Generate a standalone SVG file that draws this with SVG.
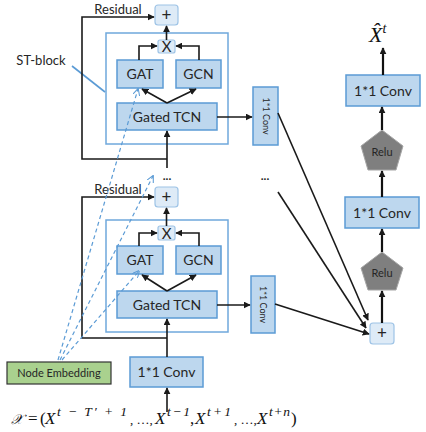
<svg xmlns="http://www.w3.org/2000/svg" width="426" height="432" viewBox="0 0 426 432">
<defs>
<style>
.box{fill:#bdd7ee;stroke:#5b9bd5;stroke-width:1.5}
.blk{fill:none;stroke:#6fa8dc;stroke-width:1.5}
.op{fill:#deebf7;stroke:#9dc3e6;stroke-width:1.2}
.relu{fill:#7f7f7f;stroke:#a6a6a6;stroke-width:1}
.lbl{font-family:Lato,"Open Sans",sans-serif;fill:#262626;text-anchor:middle}
.ln{fill:none;stroke:#1a1a1a;stroke-width:1.6}
.thick{fill:none;stroke:#111;stroke-width:2.2}
.dash{fill:none;stroke:#5b9bd5;stroke-width:1.2;stroke-dasharray:4 3}
.math{font-family:"Liberation Serif","DejaVu Serif",serif;fill:#111}
.m{font-family:"Liberation Serif","DejaVu Serif",serif;fill:#111;font-size:17px}
.ms{font-family:"Liberation Serif","DejaVu Serif",serif;fill:#111;font-size:13px}
.mi{font-family:"Liberation Serif","DejaVu Serif",serif;fill:#111;font-size:17px;font-style:italic}
.sup{font-family:"Liberation Serif","DejaVu Serif",serif;fill:#111;font-size:13.5px;font-style:italic}
</style>
<marker id="ah" viewBox="0 0 10 10" refX="9" refY="5" markerWidth="7" markerHeight="7" markerUnits="userSpaceOnUse" orient="auto"><path d="M0,0 L10,5 L0,10 z" fill="#1a1a1a"/></marker>
<marker id="ahb" viewBox="0 0 10 10" refX="9" refY="5" markerWidth="7" markerHeight="7" markerUnits="userSpaceOnUse" orient="auto"><path d="M0,0 L10,5 L0,10" fill="none" stroke="#5b9bd5" stroke-width="1.5"/></marker>
</defs>
<rect width="426" height="432" fill="#fff"/>

<!-- Top ST-block -->
<g id="st-block-top">
<rect class="blk" x="106" y="33" width="122" height="111"/>
<rect class="box" x="117" y="60" width="46" height="28"/>
<text class="lbl" x="140" y="79" font-size="14">GAT</text>
<rect class="box" x="176" y="60" width="45" height="28"/>
<text class="lbl" x="198.5" y="79" font-size="14">GCN</text>
<rect class="box" x="117" y="103" width="100" height="27"/>
<text class="lbl" x="167" y="122" font-size="14">Gated TCN</text>
<rect class="op" x="158" y="40" width="17" height="13" rx="2"/>
<text class="lbl" x="166.5" y="52" font-size="15" fill="#404040">X</text>
</g>
<g id="plus-top">
<rect class="op" x="155" y="5" width="23" height="20" rx="3"/>
<text class="lbl" x="166.5" y="21" font-size="17">+</text>
</g>
<g id="conv-v-top">
<rect class="box" x="253" y="87" width="25" height="58"/>
<text class="lbl" transform="translate(262.5,116) rotate(90)" font-size="9">1*1 Conv</text>
</g>

<!-- Bottom ST-block -->
<g id="st-block-bottom">
<rect class="blk" x="106" y="220" width="122" height="112"/>
<rect class="box" x="117" y="246" width="46" height="28"/>
<text class="lbl" x="140" y="265" font-size="14">GAT</text>
<rect class="box" x="176" y="246" width="45" height="28"/>
<text class="lbl" x="198.5" y="265" font-size="14">GCN</text>
<rect class="box" x="117" y="291" width="100" height="27"/>
<text class="lbl" x="167" y="310" font-size="14">Gated TCN</text>
<rect class="op" x="158" y="226" width="17" height="14" rx="2"/>
<text class="lbl" x="166.5" y="239" font-size="15" fill="#404040">X</text>
</g>
<g id="plus-bottom">
<rect class="op" x="155" y="187" width="23" height="20" rx="3"/>
<text class="lbl" x="166.5" y="203" font-size="17">+</text>
</g>
<g id="conv-v-bottom">
<rect class="box" x="251" y="276" width="24" height="57"/>
<text class="lbl" transform="translate(260,304.5) rotate(90)" font-size="9">1*1 Conv</text>
</g>
<g id="conv-input">
<rect class="box" x="130" y="357" width="73" height="30"/>
<text class="lbl" x="166.5" y="377" font-size="14">1*1 Conv</text>
</g>
<g id="node-embedding">
<rect x="7" y="362" width="104" height="22" fill="#a9d18e" stroke="#333" stroke-width="1.2"/>
<text class="lbl" x="59" y="377" font-size="11">Node Embedding</text>
</g>

<!-- Right stack -->
<g id="plus-out">
<rect class="op" x="370" y="323" width="24" height="21" rx="3"/>
<text class="lbl" x="382" y="339" font-size="17">+</text>
</g>
<g id="relu-1">
<polygon class="relu" points="382,252 403,268 396,290 368,290 361,268"/>
<text class="lbl" x="382" y="277" font-size="11">Relu</text>
</g>
<g id="conv-mid">
<rect class="box" x="345" y="197" width="74" height="31"/>
<text class="lbl" x="382" y="218" font-size="14">1*1 Conv</text>
</g>
<g id="relu-2">
<polygon class="relu" points="382,130 403,146 396,170 368,170 361,146"/>
<text class="lbl" x="382" y="156" font-size="11">Relu</text>
</g>
<g id="conv-out">
<rect class="box" x="346" y="75" width="74" height="31"/>
<text class="lbl" x="383" y="96" font-size="14">1*1 Conv</text>
</g>
<g id="output">
<text class="math" x="369" y="42" font-size="22" font-style="italic">X̂<tspan dy="-9" font-size="14">t</tspan></text>
</g>

<!-- Labels -->
<g id="labels">
<text class="lbl" x="118" y="14" font-size="13">Residual</text>
<text class="lbl" x="118" y="194" font-size="13">Residual</text>
<text class="lbl" x="41" y="65" font-size="13">ST-block</text>
<text class="lbl" x="167" y="180" font-size="12" font-weight="bold">...</text>
<text class="lbl" x="265" y="180" font-size="12" font-weight="bold">...</text>
</g>
<g id="formula">
<text class="mi" x="11" y="424" style="font-size:14px">𝒳</text>
<text class="m" x="28" y="424">=</text>
<text class="m" x="40" y="424">(</text>
<text class="mi" x="45" y="424">X</text>
<text class="sup" x="57" y="416" textLength="70" lengthAdjust="spacing">t − T′ + 1</text>
<text class="ms" x="130" y="424">, …,</text>
<text class="mi" x="155" y="424">X</text>
<text class="sup" x="167" y="416" textLength="23" lengthAdjust="spacing">t − 1</text>
<text class="m" x="190" y="424">,</text>
<text class="mi" x="195" y="424">X</text>
<text class="sup" x="207" y="416" textLength="24" lengthAdjust="spacing">t + 1</text>
<text class="ms" x="234" y="424">, …,</text>
<text class="mi" x="257" y="424">X</text>
<text class="sup" x="269" y="416" textLength="21" lengthAdjust="spacing">t + n</text>
<text class="m" x="291" y="424">)</text>
</g>

<!-- Connectors -->
<g id="connectors">
<line x1="72" y1="66" x2="105" y2="92" stroke="#5b9bd5" stroke-width="1.6"/>
<!-- top block -->
<polyline class="ln" points="139,60 139,46 157,46" marker-end="url(#ah)"/>
<polyline class="ln" points="199,60 199,46 176,46" marker-end="url(#ah)"/>
<line class="ln" x1="166.5" y1="40" x2="166.5" y2="26" marker-end="url(#ah)"/>
<line class="ln" x1="167" y1="103" x2="142" y2="89" marker-end="url(#ah)"/>
<line class="ln" x1="167" y1="103" x2="196" y2="89" marker-end="url(#ah)"/>
<line class="ln" x1="167" y1="168" x2="167" y2="131" marker-end="url(#ah)"/>
<polyline class="ln" points="167,159 82,159 82,17 154,17" marker-end="url(#ah)"/>
<line class="ln" x1="217" y1="117" x2="252" y2="117" marker-end="url(#ah)"/>
<!-- bottom block -->
<polyline class="ln" points="139,246 139,233 157,233" marker-end="url(#ah)"/>
<polyline class="ln" points="199,246 199,233 176,233" marker-end="url(#ah)"/>
<line class="ln" x1="166.5" y1="226" x2="166.5" y2="208" marker-end="url(#ah)"/>
<line class="ln" x1="167" y1="291" x2="142" y2="275" marker-end="url(#ah)"/>
<line class="ln" x1="167" y1="291" x2="196" y2="275" marker-end="url(#ah)"/>
<line class="ln" x1="167" y1="357" x2="167" y2="319" marker-end="url(#ah)"/>
<polyline class="ln" points="167,338 82,338 82,197 154,197" marker-end="url(#ah)"/>
<line class="ln" x1="217" y1="305" x2="250" y2="305" marker-end="url(#ah)"/>
<line class="ln" x1="167" y1="412" x2="167" y2="388" marker-end="url(#ah)"/>
<!-- skip to output plus -->
<line class="ln" x1="278" y1="113" x2="368" y2="320" marker-end="url(#ah)"/>
<line class="ln" x1="278" y1="192" x2="366" y2="328" marker-end="url(#ah)"/>
<line class="ln" x1="275" y1="304" x2="369" y2="334" marker-end="url(#ah)"/>
<!-- right stack -->
<line class="thick" x1="382" y1="323" x2="382" y2="291" marker-end="url(#ah)"/>
<line class="thick" x1="382" y1="252" x2="382" y2="229" marker-end="url(#ah)"/>
<line class="thick" x1="382" y1="197" x2="382" y2="171" marker-end="url(#ah)"/>
<line class="thick" x1="382" y1="130" x2="382" y2="107" marker-end="url(#ah)"/>
<line class="thick" x1="383" y1="75" x2="383" y2="48" marker-end="url(#ah)"/>
<!-- node embedding dashed -->
<line class="dash" x1="58" y1="360" x2="138" y2="89" marker-end="url(#ahb)"/>
<line class="dash" x1="60" y1="360" x2="153" y2="176" marker-end="url(#ahb)"/>
<line class="dash" x1="62" y1="360" x2="139" y2="271" marker-end="url(#ahb)"/>
</g>
</svg>
